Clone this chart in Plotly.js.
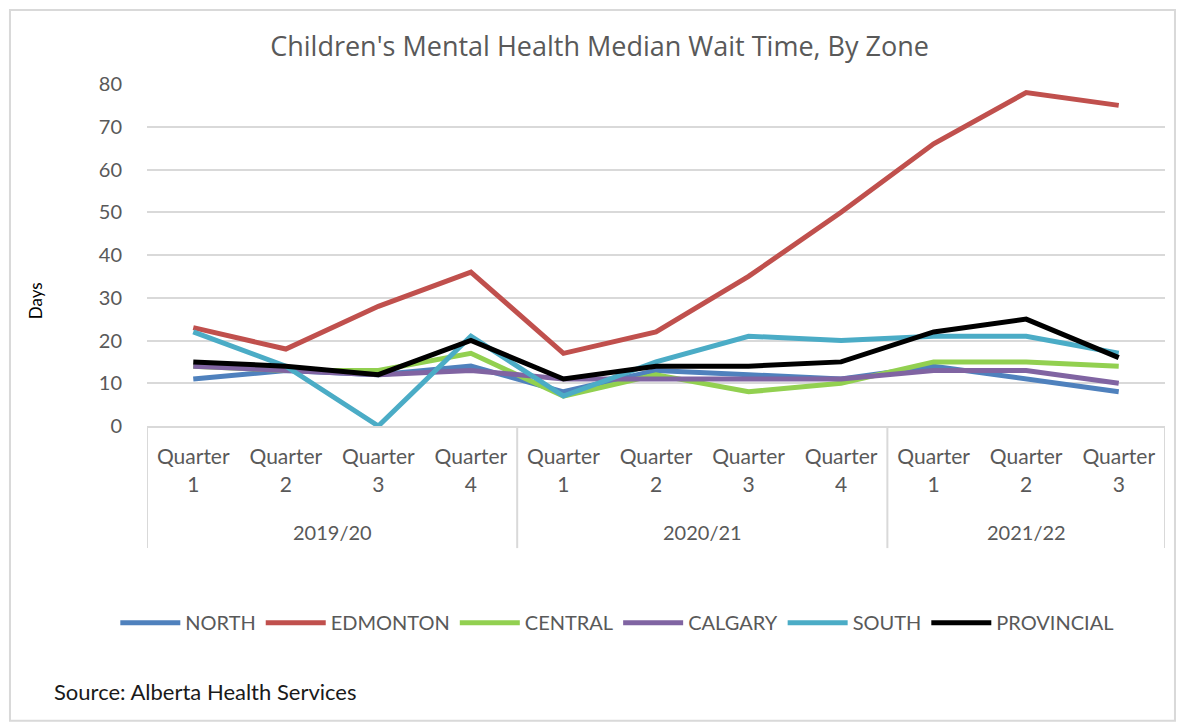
<!DOCTYPE html>
<html>
<head>
<meta charset="utf-8">
<script src="https://cdn.plot.ly/plotly-3.0.1.min.js"></script>
<style>
html,body{margin:0;padding:0;background:#fff;}
#chart{width:1178px;height:723px;}
</style>
</head>
<body>
<div id="chart"></div>
<script>
const years = ["2019/20","2019/20","2019/20","2019/20","2020/21","2020/21","2020/21","2020/21","2021/22","2021/22","2021/22"];
const quarters = ["Quarter 1","Quarter 2","Quarter 3","Quarter 4","Quarter 1","Quarter 2","Quarter 3","Quarter 4","Quarter 1","Quarter 2","Quarter 3"];
const yearGroups = ["2019/20","2020/21","2021/22"];

const north      = [11, 13, 12, 14, 8, 13, 12, 11, 14, 11, 8];
const edmonton   = [23, 18, 28, 36, 17, 22, 35, 50, 66, 78, 75];
const central    = [14, 13, 13, 17, 7, 12, 8, 10, 15, 15, 14];
const calgary    = [14, 13, 12, 13, 11, 11, 11, 11, 13, 13, 10];
const south      = [22, 14, 0, 21, 7, 15, 21, 20, 21, 21, 17];
const provincial = [15, 14, 12, 20, 11, 14, 14, 15, 22, 25, 16];

const seriesNames = ["NORTH","EDMONTON","CENTRAL","CALGARY","SOUTH","PROVINCIAL"];
const seriesData = [north, edmonton, central, calgary, south, provincial];
const seriesColors = ["#4F81BD","#C0504D","#92D050","#8064A2","#4BACC6","#000000"];

// unique category keys, one per period
const cats = years.map((y,i)=>y+" "+quarters[i]);
const tickText = quarters.map(q=>q.replace(" ","<br>"));

const traces = seriesNames.map((n,i)=>({
  type:"scatter", mode:"lines", name:n,
  x:cats, y:seriesData[i],
  line:{color:seriesColors[i], width:5}
}));

// group boundaries and centres derived from the year array
const bounds = [-0.5];
const centres = [];
yearGroups.forEach(g=>{
  const first = years.indexOf(g), last = years.lastIndexOf(g);
  centres.push((first+last)/2);
  bounds.push(last+0.5);
});

const shapes = [{type:"rect", xref:"paper", yref:"paper", x0:-0.1346, x1:1.0098, y0:-0.862, y1:1.2164, line:{color:"#D9D9D9", width:2}, layer:"below"}];
bounds.forEach(b=>shapes.push({type:"line", xref:"x", yref:"paper", x0:b, x1:b, y0:0, y1:-0.357, line:{color:"#D9D9D9", width:2}}));

const annotations = [
  {text:"Source: Alberta Health Services", xref:"paper", yref:"paper", x:-0.093, xanchor:"left", y:-0.775, yanchor:"middle", showarrow:false, font:{size:22, color:"#1a1a1a", family:"Lato, sans-serif"}},
  {text:"Days", xref:"paper", yref:"paper", x:-0.11, xanchor:"center", y:0.365, yanchor:"middle", textangle:-90, showarrow:false, font:{size:17, color:"#000", family:"Lato, sans-serif"}}
];
yearGroups.forEach((g,k)=>annotations.push({text:g, xref:"x", yref:"paper", x:centres[k], xanchor:"center", y:-0.311, yanchor:"middle", showarrow:false, font:{size:20, color:"#595959"}}));

const layout = {
  width:1178, height:723,
  margin:{l:147, r:13, t:84, b:297},
  paper_bgcolor:"#fff", plot_bgcolor:"#fff",
  font:{family:"Lato, 'Noto Sans', sans-serif", color:"#595959", size:20},
  title:{text:"Children's Mental Health Median Wait Time, By Zone", x:0.509, xanchor:"center", y:0.935, yanchor:"middle", font:{size:27, color:"#595959", family:"'Open Sans', sans-serif"}},
  xaxis:{type:"category", range:[-0.5, cats.length-0.5], tickvals:cats, ticktext:tickText,
         showgrid:false, showline:true, linecolor:"#D9D9D9", linewidth:2, zeroline:false,
         ticks:"", ticklabelstandoff:11, tickfont:{size:21, color:"#595959"}},
  yaxis:{range:[0,80], dtick:10, showgrid:true, gridcolor:"#D9D9D9", gridwidth:2, zeroline:false, showline:false,
         ticks:"", ticklabelstandoff:24, tickfont:{size:20, color:"#595959"}},
  showlegend:true,
  legend:{orientation:"h", x:0.462, xanchor:"center", y:-0.575, yanchor:"middle", font:{size:20, color:"#595959"}, itemwidth:60, tracegroupgap:0},
  shapes:shapes,
  annotations:annotations
};

Plotly.newPlot("chart", traces, layout, {displayModeBar:false, staticPlot:true});
</script>
</body>
</html>
